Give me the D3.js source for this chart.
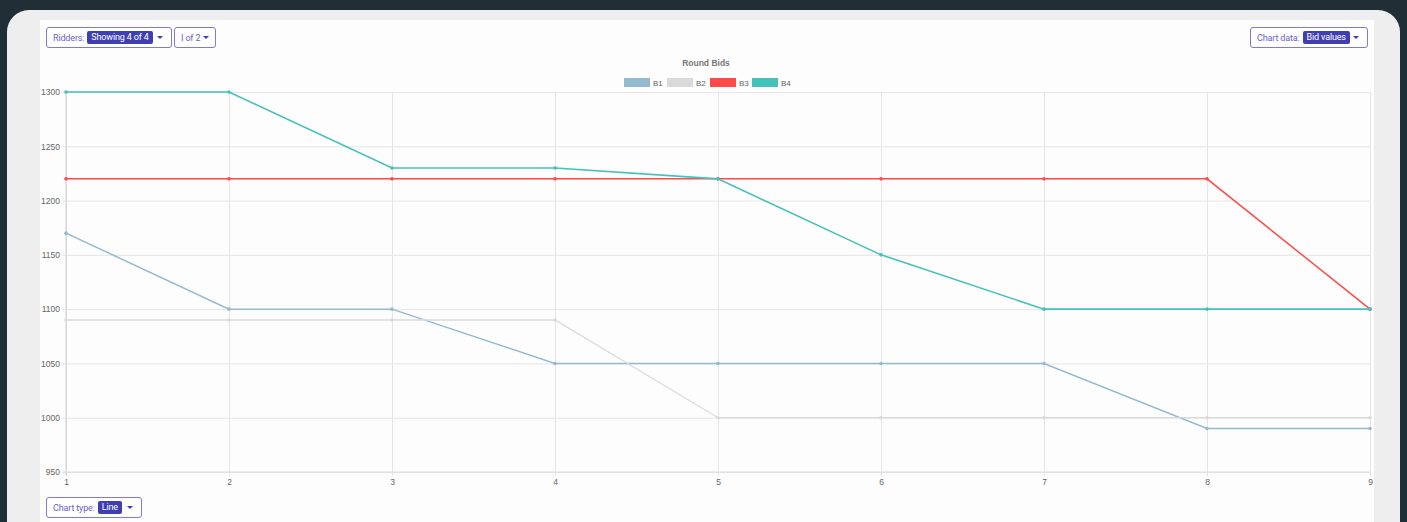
<!DOCTYPE html>
<html>
<head>
<meta charset="utf-8">
<script src="https://cdn.jsdelivr.net/npm/d3@7"></script>
<style>
  html, body { margin: 0; padding: 0; background: #1f2f35; overflow: hidden; }
  body { width: 1407px; height: 522px; position: relative; font-family: Roboto, "Liberation Sans", sans-serif; }
  .card { position: absolute; left: 7px; top: 10px; width: 1393px; height: 540px; background: #eeeeee; border-radius: 22px; }
  .panel { position: absolute; left: 40px; top: 20px; width: 1334px; height: 520px; background: #fdfdfd; }
  .btn { position: absolute; height: 21px; border: 1px solid #8079d8; border-radius: 3px; background: #fff;
         font-size: 9px; color: #6a62c8; padding: 0 6px; white-space: nowrap; z-index: 2;
         display: flex; align-items: center; box-sizing: border-box; letter-spacing: -0.15px; }
  .badge { display: inline-block; background: #3f3fb0; color: #fff; border-radius: 2px; padding: 0 4px; line-height: 13px; height: 13px; margin-left: 3px; }
  .caret { display: inline-block; width: 0; height: 0; border-left: 3px solid transparent; border-right: 3px solid transparent; border-top: 3px solid #3f3fb0; margin-left: auto; }
  svg { position: absolute; left: 0; top: 0; z-index: 1; }
</style>
</head>
<body>
<div class="card"></div>
<div class="panel"></div>
<div class="btn" style="left:46px;top:27px;width:126px;padding-right:8px">Ridders: <span class="badge">Showing 4 of 4</span><span class="caret"></span></div>
<div class="btn" style="left:174px;top:27px;width:42px;">I of 2<span class="caret"></span></div>
<div class="btn" style="left:1250px;top:27px;width:118px;padding-right:8px">Chart data: <span class="badge">Bid values</span><span class="caret"></span></div>
<div class="btn" style="left:46px;top:497px;width:96px;padding-right:8px">Chart type: <span class="badge">Line</span><span class="caret"></span></div>
<svg id="chart" width="1407" height="522"></svg>
<script>
// Round numbers along the x axis
const rounds = [1, 2, 3, 4, 5, 6, 7, 8, 9];
// Bid values per bidder, one value per round
const b1 = [1170, 1100, 1100, 1050, 1050, 1050, 1050, 990, 990];
const b2 = [1090, 1090, 1090, 1090, 1000, 1000, 1000, 1000, 1000];
const b3 = [1220, 1220, 1220, 1220, 1220, 1220, 1220, 1220, 1100];
const b4 = [1300, 1300, 1230, 1230, 1220, 1150, 1100, 1100, 1100];
const seriesNames = ["B1", "B2", "B3", "B4"];
const yTicks = [950, 1000, 1050, 1100, 1150, 1200, 1250, 1300];

const colors = ["#94bad0", "#dadada", "#ff4a4a", "#43c1bb"];
const widths = [1.5, 1.3, 1.5, 1.6];
const series = [b1, b2, b3, b4].map((vals, i) => ({ name: seriesNames[i], values: vals, color: colors[i], width: widths[i] }));

const svg = d3.select("#chart");
const plotLeft = 66, plotRight = 1370, plotTop = 92, plotBottom = 472;

const x = d3.scaleLinear().domain([d3.min(rounds), d3.max(rounds)]).range([plotLeft, plotRight]);
const y = d3.scaleLinear().domain([950, 1300]).range([plotBottom, plotTop]);

const gridColor = "#e6e6e6";
const textColor = "#666";
const fontFam = "'Liberation Sans', Arial, sans-serif";

// horizontal grid + y axis
const yAxis = d3.axisLeft(y).tickValues(yTicks).tickSize(-(plotRight - plotLeft)).tickPadding(6).tickFormat(d3.format("d"));
const gy = svg.append("g").attr("transform", `translate(${plotLeft},0)`).call(yAxis);
gy.select(".domain").remove();
gy.selectAll(".tick line").attr("stroke", gridColor).attr("x1", -4);
gy.selectAll(".tick text").attr("fill", textColor).attr("font-size", 8.5).attr("font-family", fontFam);

// vertical grid + x axis
const xAxis = d3.axisBottom(x).tickValues(rounds).tickSize(-(plotBottom - plotTop)).tickPadding(7).tickFormat(d3.format("d"));
const gx = svg.append("g").attr("transform", `translate(0,${plotBottom})`).call(xAxis);
gx.select(".domain").remove();
gx.selectAll(".tick line").attr("stroke", gridColor).attr("y1", 4);
gx.selectAll(".tick text").attr("fill", textColor).attr("font-size", 8.5).attr("font-family", fontFam);

// axis baselines
svg.append("line").attr("x1", plotLeft).attr("x2", plotLeft).attr("y1", plotTop).attr("y2", plotBottom + 4).attr("stroke", "#cfcfcf");
svg.append("line").attr("x1", plotLeft - 4).attr("x2", plotRight).attr("y1", plotBottom).attr("y2", plotBottom).attr("stroke", "#dcdcdc");

// lines
const line = d3.line().x((d, i) => x(rounds[i])).y(d => y(d));
const g = svg.append("g");
series.forEach(s => {
  g.append("path").datum(s.values).attr("d", line).attr("fill", "none")
    .attr("stroke", s.color).attr("stroke-width", s.width);
  g.selectAll(null).data(s.values).enter().append("circle")
    .attr("cx", (d, i) => x(rounds[i])).attr("cy", d => y(d)).attr("r", 1.8)
    .attr("fill", s.color);
});

// title
svg.append("text").attr("x", 706).attr("y", 66).attr("text-anchor", "middle")
  .attr("font-family", fontFam).attr("font-size", 8.5).attr("font-weight", "bold")
  .attr("fill", "#777").text("Round Bids");

// legend
const legendX = [624, 667, 710, 752];
const lg = svg.append("g");
series.forEach((s, i) => {
  lg.append("rect").attr("x", legendX[i]).attr("y", 78).attr("width", 26).attr("height", 9).attr("fill", s.color);
  lg.append("text").attr("x", legendX[i] + 29).attr("y", 85.5).attr("font-size", 8)
    .attr("font-family", fontFam).attr("fill", textColor).text(s.name);
});
</script>
</body>
</html>
